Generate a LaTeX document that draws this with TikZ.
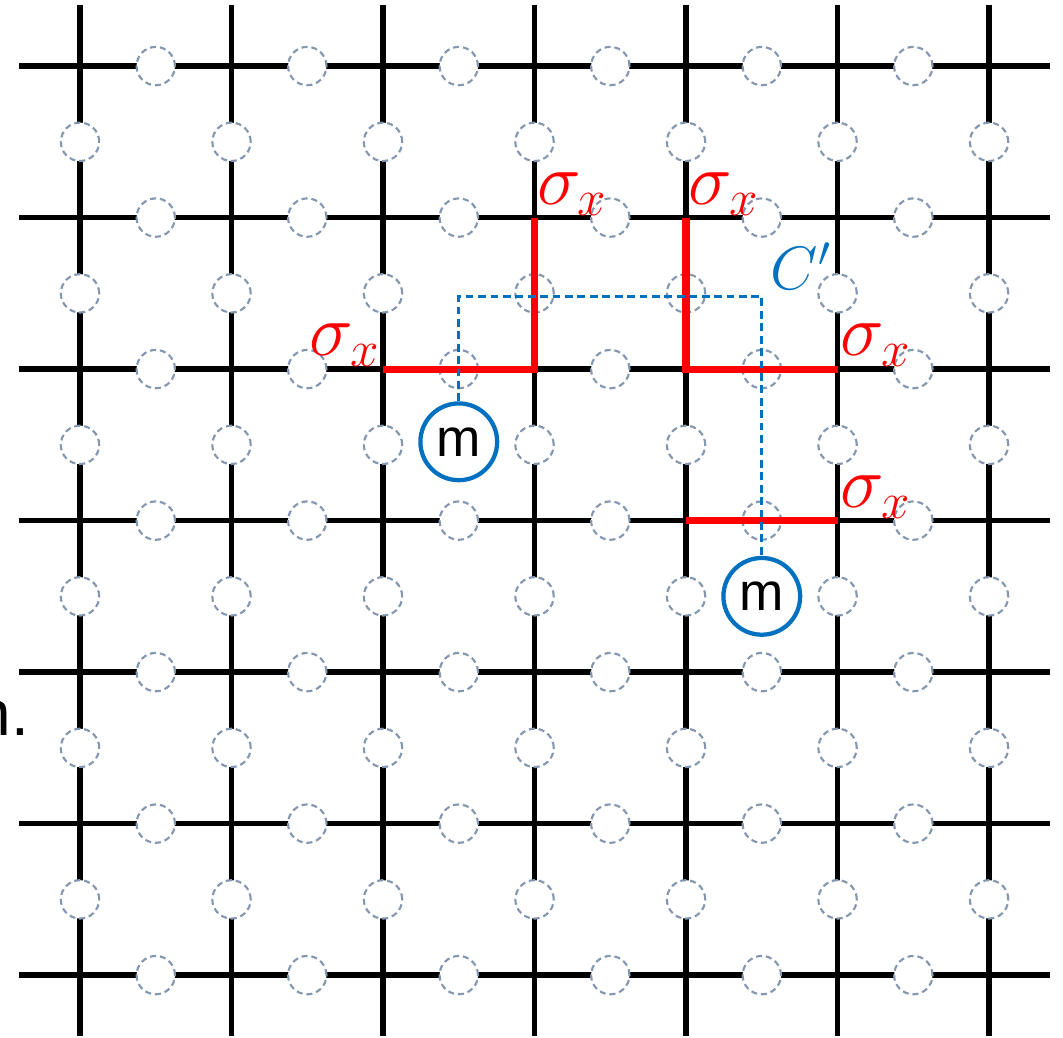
\documentclass[tikz,border=0pt]{standalone}
\usepackage{fontspec}
\newfontfamily\labelfont{Liberation Sans}
\definecolor{qubitgray}{HTML}{8497B0}
\definecolor{loopblue}{HTML}{0070C0}
\definecolor{opred}{HTML}{FF0000}
\begin{document}
\begin{tikzpicture}[x=1.5cm, y=1.5cm,
    bond/.style={line width=1.5pt},
    qubit/.style={circle, draw=qubitgray, dash pattern=on 1.7pt off 1.1pt, fill=white, line width=0.6pt, minimum size=0.38cm, inner sep=0pt},
    flip/.style={opred, line width=2pt},
    meas/.style={circle, draw=loopblue, line width=1.2pt, fill=white, minimum size=0.76cm, inner sep=0pt, font=\labelfont\fontsize{15}{18}\selectfont},
    oplabel/.style={text=opred, inner sep=0.5pt, font=\fontsize{21}{24}\selectfont}]
  \useasboundingbox (-0.528,-0.409) rectangle (6.488,6.436);

  % lattice
  \foreach \i in {0,...,6} {
    \draw[bond] (\i,-0.4) -- (\i,6.4);
    \draw[bond] (-0.4,\i) -- (6.4,\i);
  }
  \foreach \i in {0,...,6}
    \foreach \j in {0,...,6}
      \coordinate (v-\i-\j) at (\i,\j);

  % qubits on the edges
  \foreach \i in {0,...,5}
    \foreach \j in {0,...,6}
      \node[qubit] (h-\i-\j) at (\i+0.5,\j) {};
  \foreach \i in {0,...,6}
    \foreach \j in {0,...,5}
      \node[qubit] (u-\i-\j) at (\i,\j+0.5) {};

  % sigma_x string
  \draw[flip] (v-2-4) -- (v-3-4) -- (v-3-5);
  \draw[flip] (v-4-5) -- (v-4-4) -- (v-5-4);
  \draw[flip] (v-4-3) -- (v-5-3);
  \node[oplabel, anchor=south east] (s1) at (v-2-4) {$\sigma_x$};
  \node[oplabel, anchor=south west] (s2) at (v-3-5) {$\sigma_x$};
  \node[oplabel, anchor=south west] (s3) at (v-4-5) {$\sigma_x$};
  \node[oplabel, anchor=south west] (s4) at (v-5-4) {$\sigma_x$};
  \node[oplabel, anchor=south west] (s5) at (v-5-3) {$\sigma_x$};

  % loop C' and the two m
  \node[meas] (m1) at (2.5,3.52) {m};
  \node[meas] (m2) at (4.5,2.5) {m};
  \coordinate (c1) at (2.5,4.48);
  \coordinate (c2) at (4.5,4.48);
  \draw[loopblue, line width=0.75pt, dash pattern=on 2.2pt off 1.3pt] (m1) -- (c1) -- (c2) -- (m2);
  \node[text=loopblue, font=\fontsize{18}{21}\selectfont] (cloop) at (4.76,4.68) {$C'$};

  \node[anchor=base east, inner sep=0pt, font=\labelfont\fontsize{18}{21}\selectfont] (cut) at (-0.33,1.584) {n.};
\end{tikzpicture}
\end{document}
